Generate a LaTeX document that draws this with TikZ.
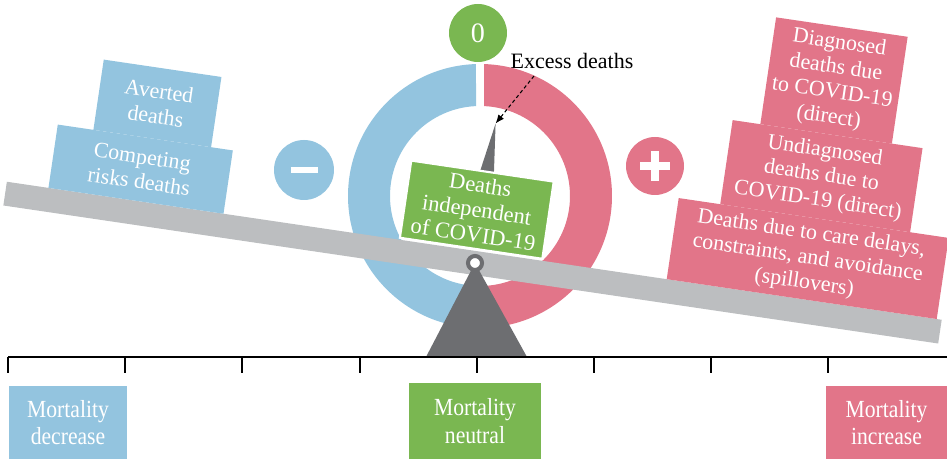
\documentclass[tikz,border=0pt]{standalone}
\usepackage{fontspec}
\setmainfont{Liberation Serif}
\newfontfamily\condfont[FakeStretch=0.88]{Liberation Serif}
\usetikzlibrary{arrows.meta}

\definecolor{riskblue}{HTML}{93C4DF}
\definecolor{riskpink}{HTML}{E27589}
\definecolor{neutgreen}{HTML}{7AB751}
\definecolor{beamgray}{HTML}{BCBEC0}
\definecolor{pivotgray}{HTML}{6D6E71}

\begin{document}
\begin{tikzpicture}[x=0.02cm, y=0.02cm, >=Latex,
  block/.style={inner sep=0pt, align=center, text=white, font=\fontsize{12.5}{14.2}\selectfont},
  badge/.style={circle, inner sep=0pt, text=white},
  scalebox/.style={inner sep=0pt, align=center, text=white, font=\condfont\fontsize{14}{15.8}\selectfont}]

\useasboundingbox (0,0) rectangle (947,459);

% =================================================================================
% the ring behind the balance
% =================================================================================
\coordinate (ring) at (480,263);
\fill[riskblue] ([shift={(91.74:132)}]ring) arc[start angle=91.74, end angle=268.26, radius=132]
  -- ([shift={(267.45:90)}]ring) arc[start angle=267.45, end angle=92.55, radius=90] -- cycle;
\fill[riskpink] ([shift={(88.26:132)}]ring) arc[start angle=88.26, end angle=-88.26, radius=132]
  -- ([shift={(-87.45:90)}]ring) arc[start angle=-87.45, end angle=87.45, radius=90] -- cycle;

\node[badge, fill=neutgreen, minimum size=1.16cm, font=\fontsize{16}{18}\selectfont] (zero) at (478,426) {0};

\node[badge, fill=riskblue, minimum size=1.2cm] (minus) at (304,289) {};
\draw[white, line width=0.12cm] ([xshift=-0.27cm]minus.center) -- ([xshift=0.27cm]minus.center);
\node[badge, fill=riskpink, minimum size=1.16cm] (plus) at (655,293) {};
\draw[white, line width=0.16cm] ([xshift=-0.3cm]plus.center) -- ([xshift=0.3cm]plus.center);
\draw[white, line width=0.16cm] ([yshift=-0.3cm]plus.center) -- ([yshift=0.3cm]plus.center);

% =================================================================================
% the beam and what sits on it
% =================================================================================
\coordinate (pivot) at (475,196);
\begin{scope}[shift={(pivot)}, rotate=-8.4, transform shape]
  \fill[beamgray] (-475,-12) rectangle (470,12);

  \node[block, fill=riskblue, minimum width=3.54cm, minimum height=1.28cm] (compete) at (-344.5,44) {Competing\\risks deaths};
  \node[block, fill=riskblue, minimum width=2.38cm, minimum height=1.42cm] (avert) at (-337.5,111.5) {Averted\\deaths};

  \node[block, fill=riskpink, minimum width=5.46cm, minimum height=1.64cm] (spill) at (328.5,53) {Deaths due to care delays,\\constraints, and avoidance\\(spillovers)};
  \node[block, fill=riskpink, minimum width=3.84cm, minimum height=1.70cm] (undiag) at (330,136.5) {Undiagnosed\\deaths due to\\COVID-19 (direct)};
  \node[block, fill=riskpink, minimum width=2.66cm, minimum height=2.16cm] (diag) at (328.5,233) {Diagnosed\\deaths due\\to COVID-19\\(direct)};

  \coordinate (tip) at (0,141);
  \fill[pivotgray] (-9,88) -- (6,88) -- (tip) -- cycle;
  \node[block, fill=neutgreen, draw=white, line width=1.2pt, minimum width=2.88cm, minimum height=1.56cm,
        font=\fontsize{12.8}{14.2}\selectfont] (indep) at (-6,53) {Deaths\\independent\\of COVID-19};
\end{scope}

\node[font=\fontsize{12.5}{14}\selectfont] (excess) at (572,398) {Excess deaths};
\coordinate (tail) at (534,383);
\draw[-{Latex[length=5pt, width=4pt]}, dash pattern=on 2pt off 1.5pt, line width=0.6pt] (tail) -- (tip);

% =================================================================================
% fulcrum and axis
% =================================================================================
\fill[pivotgray] (pivot) -- (426,102) -- (527,102) -- cycle;
\node[circle, draw=pivotgray, fill=white, line width=2.3pt, minimum size=0.28cm, inner sep=0pt] (pin) at (pivot) {};

\draw[line width=1.4pt] (8,102) -- (947,102);
\foreach \k in {0,...,7}
  \draw[line width=1.1pt] (8+117.2*\k,102) -- ++(0,-16);

\node[scalebox, fill=riskblue, minimum width=2.38cm, minimum height=1.46cm] (decrease) at (68,36.5) {Mortality\\decrease};
\node[scalebox, fill=neutgreen, minimum width=2.64cm, minimum height=1.52cm] (neutral) at (475,38) {Mortality\\neutral};
\node[scalebox, fill=riskpink, minimum width=2.42cm, minimum height=1.46cm] (increase) at (886.5,36.5) {Mortality\\increase};

\end{tikzpicture}
\end{document}
